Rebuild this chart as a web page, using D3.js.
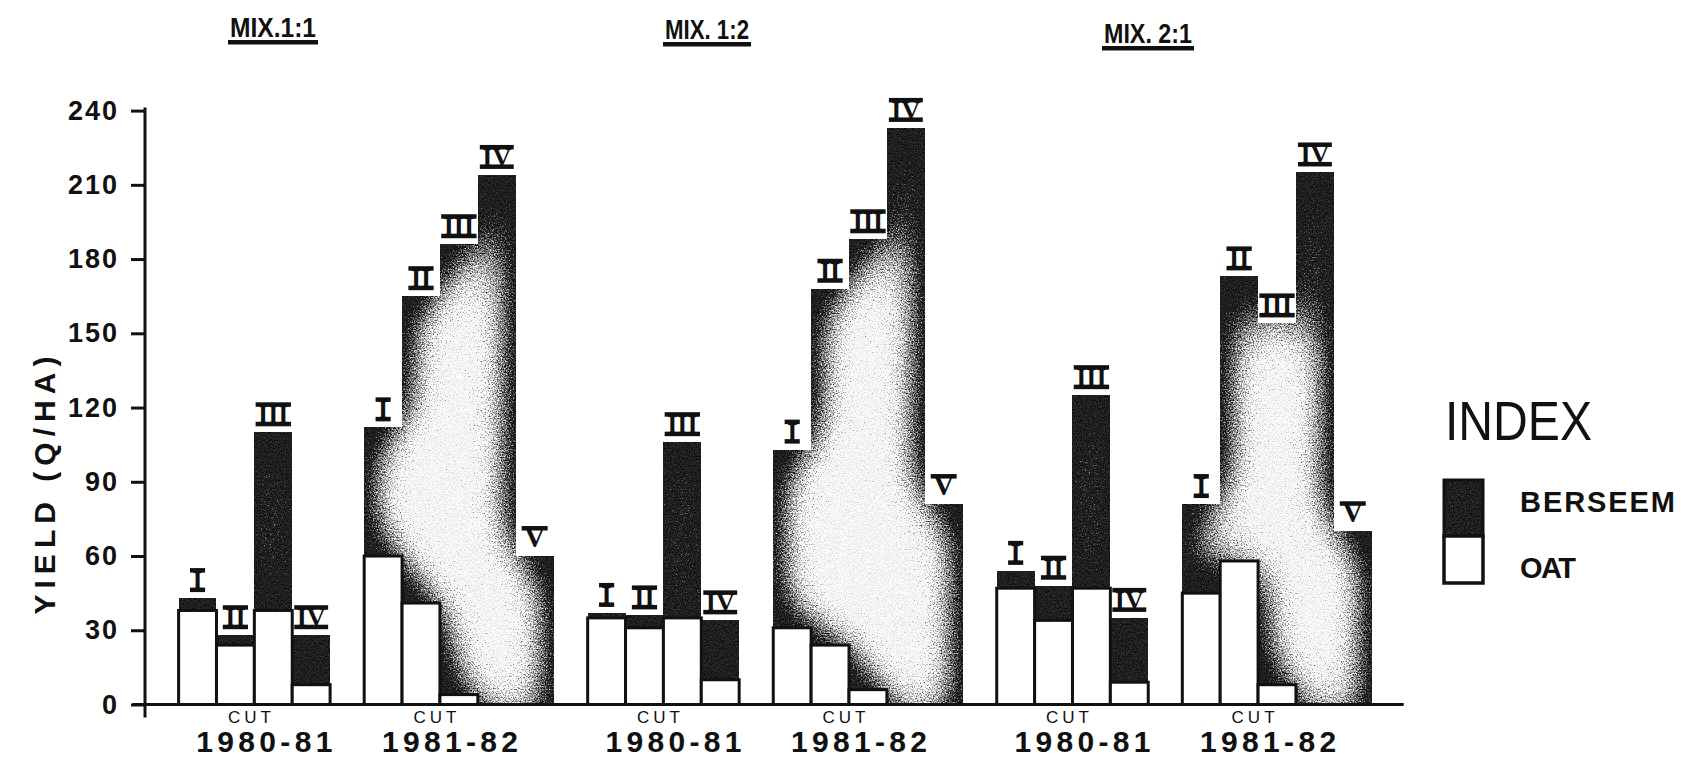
<!DOCTYPE html>
<html>
<head>
<meta charset="utf-8">
<script src="https://cdn.jsdelivr.net/npm/d3@7"></script>
<style>
  html, body { margin: 0; padding: 0; background: #fff; }
  svg { display: block; }
</style>
</head>
<body>
<svg id="chart" width="1681" height="763"></svg>
<script>
// ---- Data -------------------------------------------------------------
const mixtures = ["MIX.1:1", "MIX. 1:2", "MIX. 2:1"];
const seasons = ["1980-81", "1981-82"];
const cutNumerals = ["I", "II", "III", "IV", "V"];
const yTicks = [0, 30, 60, 90, 120, 150, 180, 210, 240];
const seriesNames = ["BERSEEM", "OAT"];

// Oat yield (q/ha) per cut; one row per mixture x season
const oatYield = [
  [38, 24, 38, 8],
  [60, 41, 4, 0, 0],
  [35, 31, 35, 10],
  [31, 24, 6, 0, 0],
  [47, 34, 47, 9],
  [45, 58, 8, 0, 0]
];
// Berseem yield (q/ha) per cut, stacked on top of oat
const berseemYield = [
  [5, 4, 72, 20],
  [52, 124, 182, 214, 60],
  [2, 5, 71, 24],
  [72, 144, 182, 233, 81],
  [7, 14, 78, 26],
  [36, 115, 146, 215, 70]
];

// ---- Layout -----------------------------------------------------------
const W = 1681, H = 763;
const groupGap = 0.9;            // gap between season groups, in bar widths
const sans = "'Liberation Sans', Arial, sans-serif";
const serif = "'Liberation Serif', 'DejaVu Serif', serif";

const svg = d3.select("#chart");

// panels: mixture x season, laid out in bar "slots"
let slot = 0;
const panels = oatYield.map((row, i) => {
  const p = {
    mixture: mixtures[Math.floor(i / 2)],
    season: seasons[i % 2],
    start: slot,
    rows: row.map((o, j) => ({
      cut: cutNumerals[j],
      slot: slot + j,
      oat: o,
      berseem: berseemYield[i][j]
    }))
  };
  slot += row.length + groupGap;
  return p;
});
const totalSlots = slot - groupGap;

const x = d3.scaleLinear().domain([0, totalSlots]).range([178.6, 1371.7]);
const y = d3.scaleLinear().domain([0, 240]).range([704.5, 110.6]);
const bw = x(1) - x(0);

// ---- Grainy, inner-shaded fill for the berseem areas -------------------
// Dark near the outline of each berseem area, fading to a speckled light
// grey deep inside wide areas.
const defs = svg.append("defs");
const f = defs.append("filter")
  .attr("id", "shade")
  .attr("filterUnits", "userSpaceOnUse")
  .attr("x", 0).attr("y", 0).attr("width", W).attr("height", H)
  .attr("color-interpolation-filters", "sRGB");
f.append("feGaussianBlur").attr("in", "SourceAlpha").attr("stdDeviation", 30).attr("result", "blur");
f.append("feColorMatrix").attr("in", "blur").attr("type", "matrix")
  .attr("values", "0 0 0 1 0  0 0 0 1 0  0 0 0 1 0  0 0 0 0 1").attr("result", "depth");
f.append("feTurbulence").attr("type", "fractalNoise").attr("baseFrequency", 0.75)
  .attr("numOctaves", 3).attr("seed", 7).attr("result", "noise");
f.append("feColorMatrix").attr("in", "noise").attr("type", "matrix")
  .attr("values", "1 0 0 0 0  1 0 0 0 0  1 0 0 0 0  0 0 0 0 1").attr("result", "grain");
f.append("feComposite").attr("in", "depth").attr("in2", "grain").attr("operator", "arithmetic")
  .attr("k1", 0).attr("k2", 3.4).attr("k3", 1.9).attr("k4", -2.8).attr("result", "light");
f.append("feComposite").attr("in", "light").attr("in2", "grain").attr("operator", "arithmetic")
  .attr("k1", 0).attr("k2", 0.84).attr("k3", 0.4).attr("k4", -0.08).attr("result", "toned");
f.append("feComposite").attr("in", "toned").attr("in2", "SourceAlpha").attr("operator", "in");

// everything above the baseline
defs.append("clipPath").attr("id", "plotClip")
  .append("rect").attr("x", 0).attr("y", 0).attr("width", W).attr("height", y(0));

// ---- Bars ---------------------------------------------------------------
const stack = d3.stack().keys(["oat", "berseem"]);
const belowAxis = 34;   // shading runs past the baseline, then is clipped

panels.forEach(p => {
  const layers = stack(p.rows);
  const oatLayer = layers[0], berLayer = layers[1];

  // berseem region (drawn as one shaded shape per group)
  svg.append("g")
    .attr("clip-path", "url(#plotClip)")
    .append("g")
    .attr("filter", "url(#shade)")
    .selectAll("rect")
    .data(berLayer.filter(d => d[1] > d[0]))
    .join("rect")
      .attr("shape-rendering", "crispEdges")
      .attr("x", d => Math.round(x(d.data.slot)))
      .attr("width", d => Math.round(x(d.data.slot + 1)) - Math.round(x(d.data.slot)))
      .attr("y", d => Math.round(y(d[1])))
      .attr("height", d => Math.round(y(d[0])) - Math.round(y(d[1])) + (d[0] === 0 ? belowAxis : 0))
      .attr("fill", "#000");

  // oat bars (white, outlined)
  svg.append("g")
    .selectAll("rect")
    .data(oatLayer.filter(d => d[1] > 0))
    .join("rect")
      .attr("x", d => x(d.data.slot))
      .attr("width", bw)
      .attr("y", d => y(d[1]))
      .attr("height", d => y(0) - y(d[1]))
      .attr("fill", "#fff")
      .attr("stroke", "#111")
      .attr("stroke-width", 3);

  // cut numerals above each bar
  const lab = svg.append("g").selectAll("g")
    .data(berLayer)
    .join("g")
      .attr("transform", d => `translate(${x(d.data.slot + 0.5)},${y(d[1])})`);
  lab.append("text")
    .attr("y", -9)
    .attr("text-anchor", "middle")
    .attr("font-family", serif)
    .attr("font-weight", "bold")
    .attr("font-size", d => d.data.cut === "V" ? 29 : 26)
    .attr("fill", "#111")
    .text(d => d.data.cut);
  lab.each(function(d) {
    const g = d3.select(this);
    const w = g.select("text").node().getComputedTextLength() + 5;
    g.append("rect").attr("x", -w / 2).attr("y", -30).attr("width", w).attr("height", 4.5).attr("fill", "#111");
    if (d.data.cut !== "V") {
      g.append("rect").attr("x", -w / 2).attr("y", -10.5).attr("width", w).attr("height", 4.5).attr("fill", "#111");
    }
  });

  // group captions under the axis
  const cx = (x(p.start) + x(p.start + 4)) / 2;
  svg.append("text")
    .attr("x", cx - 3).attr("y", 723)
    .attr("text-anchor", "middle")
    .attr("font-family", sans).attr("font-size", 17)
    .attr("letter-spacing", 4)
    .attr("fill", "#111")
    .text("CUT");
  svg.append("text")
    .attr("x", cx + 10).attr("y", 752)
    .attr("text-anchor", "middle")
    .attr("font-family", sans).attr("font-weight", "bold").attr("font-size", 30)
    .attr("textLength", 136).attr("lengthAdjust", "spacing")
    .attr("fill", "#111")
    .text(p.season);
});

// ---- Axes ---------------------------------------------------------------
const axisX = 145;
const yAxis = svg.append("g")
  .attr("transform", `translate(${axisX},0)`)
  .call(d3.axisLeft(y).tickValues(yTicks).tickSize(14).tickSizeOuter(0).tickPadding(12));
yAxis.select(".domain").remove();
yAxis.selectAll(".tick line").attr("stroke", "#111").attr("stroke-width", 3);
yAxis.selectAll(".tick text")
  .attr("font-family", sans).attr("font-weight", "bold").attr("font-size", 27)
  .attr("letter-spacing", 2).attr("fill", "#111");

svg.append("line")
  .attr("x1", axisX).attr("x2", axisX)
  .attr("y1", y(240) - 3).attr("y2", y(0) + 13)
  .attr("stroke", "#111").attr("stroke-width", 3);
svg.append("line")
  .attr("x1", x(0) - 46).attr("x2", x(totalSlots) + 32)
  .attr("y1", y(0)).attr("y2", y(0))
  .attr("stroke", "#111").attr("stroke-width", 3);

svg.append("text")
  .attr("transform", `translate(44,${(y(0) + y(240)) / 2 + 78}) rotate(-90)`)
  .attr("text-anchor", "middle").attr("dominant-baseline", "central")
  .attr("font-family", sans).attr("font-weight", "bold").attr("font-size", 30)
  .attr("textLength", 258).attr("lengthAdjust", "spacing")
  .attr("fill", "#111")
  .text("YIELD (Q/HA)");

// ---- Mixture titles (underlined) -------------------------------------------
const titleLayout = [
  { x: 230, w: 86, base: 37 },
  { x: 665, w: 84, base: 39 },
  { x: 1104, w: 88, base: 43 }
];
mixtures.forEach((m, i) => {
  const t = titleLayout[i];
  svg.append("text")
    .attr("x", t.x).attr("y", t.base)
    .attr("font-family", sans).attr("font-weight", "bold").attr("font-size", 27)
    .attr("textLength", t.w).attr("lengthAdjust", "spacingAndGlyphs")
    .attr("fill", "#111")
    .text(m);
  svg.append("rect")
    .attr("x", t.x - 2).attr("y", t.base + 3)
    .attr("width", t.w + 4).attr("height", 4.5)
    .attr("fill", "#111");
});

// ---- Legend -----------------------------------------------------------------
const lg = svg.append("g");
lg.append("text")
  .attr("x", 1445).attr("y", 440)
  .attr("font-family", sans).attr("font-size", 55)
  .attr("textLength", 147).attr("lengthAdjust", "spacingAndGlyphs")
  .attr("fill", "#111")
  .text("INDEX");
lg.append("rect")
  .attr("x", 1444).attr("y", 480).attr("width", 39).attr("height", 56)
  .attr("fill", "#000").attr("filter", "url(#shade)");
lg.append("rect")
  .attr("x", 1444).attr("y", 480).attr("width", 39).attr("height", 56)
  .attr("fill", "none").attr("stroke", "#111").attr("stroke-width", 3);
lg.append("rect")
  .attr("x", 1444).attr("y", 536).attr("width", 39).attr("height", 47)
  .attr("fill", "#fff").attr("stroke", "#111").attr("stroke-width", 3.5);
lg.append("text")
  .attr("x", 1520).attr("y", 512)
  .attr("font-family", sans).attr("font-weight", "bold").attr("font-size", 29)
  .attr("textLength", 155).attr("lengthAdjust", "spacing")
  .attr("fill", "#111")
  .text(seriesNames[0]);
lg.append("text")
  .attr("x", 1520).attr("y", 578)
  .attr("font-family", sans).attr("font-weight", "bold").attr("font-size", 29)
  .attr("textLength", 56).attr("lengthAdjust", "spacing")
  .attr("fill", "#111")
  .text(seriesNames[1]);
</script>
</body>
</html>
